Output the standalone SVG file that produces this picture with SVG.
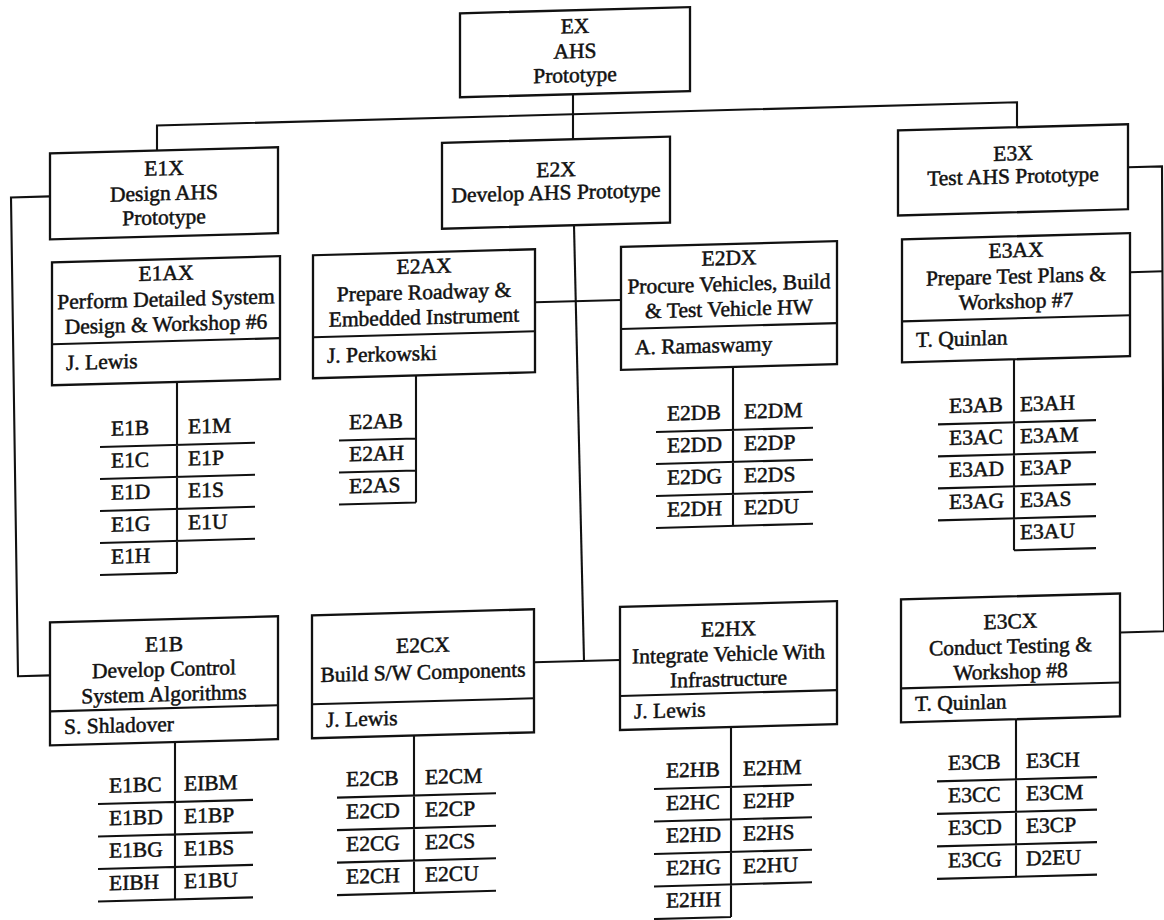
<svg xmlns="http://www.w3.org/2000/svg" width="1164" height="920" viewBox="0 0 1164 920">
<style>
.b{fill:#fff;stroke:#111;stroke-width:2.3}
.l{fill:none;stroke:#111;stroke-width:2.1}
text{font-family:"Liberation Serif","Times New Roman",serif;font-size:21.5px;fill:#111;stroke:#111;stroke-width:0.5}
.c{text-anchor:middle}
.t{font-size:22px}
</style>
<rect width="1164" height="920" fill="#fff"/>
<g transform="matrix(1,-0.027,0,1,0,15.7)">
<g id="connectors" class="l">
<path d="M573 94V139"/>
<path d="M157 139V114H1017V139"/>
<path d="M574 225L584 661"/>
<path d="M535 301H621"/>
<path d="M534 661H620"/>
<path d="M50 182H11L18 661H50"/>
<path d="M1128 182H1162L1164 647H1120"/>
<path d="M1130 287H1163"/>
</g>
<g id="EX"><rect class="b" x="460" y="10" width="230" height="84"/>
<text class="c" x="575" y="33">EX</text><text class="c" x="575" y="58">AHS</text><text class="c" x="575" y="82">Prototype</text></g>
<g id="E1X"><rect class="b" x="50" y="139" width="228" height="86"/>
<text class="c" x="164" y="164">E1X</text><text class="c" x="164" y="189">Design AHS</text><text class="c" x="164" y="213">Prototype</text></g>
<g id="E2X"><rect class="b" x="442" y="139" width="228" height="86"/>
<text class="c" x="556" y="176">E2X</text><text class="c" x="556" y="199">Develop AHS Prototype</text></g>
<g id="E3X"><rect class="b" x="898" y="139" width="230" height="85"/>
<text class="c" x="1013" y="172">E3X</text><text class="c" x="1013" y="195">Test AHS Prototype</text></g>

<g id="E1AX"><rect class="b" x="52" y="248" width="228" height="123"/><path class="l" d="M52 330H280"/>
<text class="c" x="166" y="269">E1AX</text><text class="c" x="166" y="295">Perform Detailed System</text><text class="c" x="166" y="320">Design &amp; Workshop #6</text>
<text x="66" y="356">J. Lewis</text>
<path class="l" d="M177 371V562M100 434H255M100 466H255M100 498H255M100 530H255M100 562H177"/>
<g class="t"><text x="111" y="423">E1B</text><text x="111" y="455">E1C</text><text x="111" y="487">E1D</text><text x="111" y="519">E1G</text><text x="111" y="551">E1H</text>
<text x="188" y="423">E1M</text><text x="188" y="455">E1P</text><text x="188" y="487">E1S</text><text x="188" y="519">E1U</text></g></g>

<g id="E2AX"><rect class="b" x="313" y="248" width="222" height="123"/><path class="l" d="M313 330H535"/>
<text class="c" x="424" y="269">E2AX</text><text class="c" x="424" y="295">Prepare Roadway &amp;</text><text class="c" x="424" y="320">Embedded Instrument</text>
<text x="327" y="356">J. Perkowski</text>
<path class="l" d="M416 371V498M339 434H416M339 466H416M339 498H416"/>
<g class="t"><text x="349" y="423">E2AB</text><text x="349" y="455">E2AH</text><text x="349" y="487">E2AS</text></g></g>

<g id="E2DX"><rect class="b" x="621" y="248" width="216" height="123"/><path class="l" d="M621 330H837"/>
<text class="c" x="729" y="269">E2DX</text><text class="c" x="729" y="295">Procure Vehicles, Build</text><text class="c" x="729" y="320">&amp; Test Vehicle HW</text>
<text x="635" y="356">A. Ramaswamy</text>
<path class="l" d="M733 371V530M656 434H813M656 466H813M656 498H813M656 530H813"/>
<g class="t"><text x="667" y="423">E2DB</text><text x="667" y="455">E2DD</text><text x="667" y="487">E2DG</text><text x="667" y="519">E2DH</text>
<text x="744" y="423">E2DM</text><text x="744" y="455">E2DP</text><text x="744" y="487">E2DS</text><text x="744" y="519">E2DU</text></g></g>

<g id="E3AX"><rect class="b" x="902" y="248" width="228" height="123"/><path class="l" d="M902 330H1130"/>
<text class="c" x="1016" y="269">E3AX</text><text class="c" x="1016" y="295">Prepare Test Plans &amp;</text><text class="c" x="1016" y="320">Workshop #7</text>
<text x="916" y="356">T. Quinlan</text>
<path class="l" d="M1014 371V562M938 434H1096M938 466H1096M938 498H1096M938 530H1096M1014 562H1096"/>
<g class="t"><text x="949" y="423">E3AB</text><text x="949" y="455">E3AC</text><text x="949" y="487">E3AD</text><text x="949" y="519">E3AG</text>
<text x="1020" y="423">E3AH</text><text x="1020" y="455">E3AM</text><text x="1020" y="487">E3AP</text><text x="1020" y="519">E3AS</text><text x="1020" y="551">E3AU</text></g></g>

<g id="E1B"><rect class="b" x="50" y="608" width="228" height="123"/><path class="l" d="M50 697H278"/>
<text class="c" x="164" y="640">E1B</text><text class="c" x="164" y="665">Develop Control</text><text class="c" x="164" y="690">System Algorithms</text>
<text x="64" y="720">S. Shladover</text>
<path class="l" d="M175 731V888.5M98 791H253M98 823.5H253M98 856H253M98 888.5H253"/>
<g class="t"><text x="109" y="780">E1BC</text><text x="109" y="812.5">E1BD</text><text x="109" y="845">E1BG</text><text x="109" y="877.5">EIBH</text>
<text x="184" y="780">EIBM</text><text x="184" y="812.5">E1BP</text><text x="184" y="845">E1BS</text><text x="184" y="877.5">E1BU</text></g></g>

<g id="E2CX"><rect class="b" x="312" y="608" width="222" height="123"/><path class="l" d="M312 697H534"/>
<text class="c" x="423" y="648">E2CX</text><text class="c" x="423" y="675">Build S/W Components</text>
<text x="326" y="720">J. Lewis</text>
<path class="l" d="M414 731V888.5M337 791H496M337 823.5H496M337 856H496M337 888.5H496"/>
<g class="t"><text x="346" y="780">E2CB</text><text x="346" y="812.5">E2CD</text><text x="346" y="845">E2CG</text><text x="346" y="877.5">E2CH</text>
<text x="425" y="780">E2CM</text><text x="425" y="812.5">E2CP</text><text x="425" y="845">E2CS</text><text x="425" y="877.5">E2CU</text></g></g>

<g id="E2HX"><rect class="b" x="620" y="608" width="217" height="123"/><path class="l" d="M620 697H837"/>
<text class="c" x="728.5" y="640">E2HX</text><text class="c" x="728.5" y="665">Integrate Vehicle With</text><text class="c" x="728.5" y="690">Infrastructure</text>
<text x="634" y="720">J. Lewis</text>
<path class="l" d="M731 731V921M654 791H812M654 823.5H812M654 856H812M654 888.5H812M654 921H731"/>
<g class="t"><text x="666" y="780">E2HB</text><text x="666" y="812.5">E2HC</text><text x="666" y="845">E2HD</text><text x="666" y="877.5">E2HG</text><text x="666" y="910">E2HH</text>
<text x="743" y="780">E2HM</text><text x="743" y="812.5">E2HP</text><text x="743" y="845">E2HS</text><text x="743" y="877.5">E2HU</text></g></g>

<g id="E3CX"><rect class="b" x="901" y="608" width="219" height="123"/><path class="l" d="M901 697H1120"/>
<text class="c" x="1010.5" y="640">E3CX</text><text class="c" x="1010.5" y="665">Conduct Testing &amp;</text><text class="c" x="1010.5" y="690">Workshop #8</text>
<text x="915" y="720">T. Quinlan</text>
<path class="l" d="M1016 731V888.5M937 791H1097M937 823.5H1097M937 856H1097M937 888.5H1097"/>
<g class="t"><text x="948" y="780">E3CB</text><text x="948" y="812.5">E3CC</text><text x="948" y="845">E3CD</text><text x="948" y="877.5">E3CG</text>
<text x="1026" y="780">E3CH</text><text x="1026" y="812.5">E3CM</text><text x="1026" y="845">E3CP</text><text x="1026" y="877.5">D2EU</text></g></g>
</g>
</svg>
